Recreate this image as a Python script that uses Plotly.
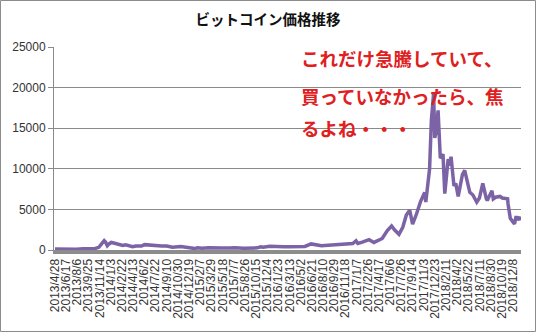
import datetime as dt
import plotly.graph_objects as go

# ---- data (approximate BTC price) ----
dates = [
    "2013-04-28", "2013-05-15", "2013-06-15", "2013-07-05", "2013-08-01", "2013-09-01",
    "2013-10-01", "2013-10-25", "2013-11-10", "2013-11-18", "2013-11-30", "2013-12-04",
    "2013-12-10", "2013-12-18", "2013-12-26", "2014-01-05", "2014-01-20", "2014-02-10",
    "2014-02-25", "2014-03-10", "2014-04-10", "2014-04-25", "2014-05-20", "2014-06-03",
    "2014-06-25", "2014-07-15", "2014-08-18", "2014-09-10", "2014-10-05", "2014-11-12",
    "2014-12-15", "2015-01-14", "2015-01-25", "2015-02-15", "2015-03-15", "2015-04-15",
    "2015-05-15", "2015-06-20", "2015-07-10", "2015-08-20", "2015-09-20", "2015-10-20",
    "2015-11-04", "2015-11-15", "2015-12-15", "2016-01-15", "2016-02-15", "2016-03-15",
    "2016-04-15", "2016-05-20", "2016-06-17", "2016-07-01", "2016-08-02", "2016-09-01",
    "2016-10-01", "2016-11-01", "2016-12-01", "2016-12-20", "2017-01-04", "2017-01-12",
    "2017-02-01", "2017-03-03", "2017-03-25", "2017-04-15", "2017-05-01", "2017-05-24",
    "2017-06-12", "2017-06-26", "2017-07-15", "2017-08-01", "2017-08-17", "2017-09-01",
    "2017-09-14", "2017-10-01", "2017-10-20", "2017-11-07", "2017-11-12", "2017-11-29",
    "2017-12-07", "2017-12-17", "2017-12-22", "2017-12-28", "2018-01-06", "2018-01-16",
    "2018-01-28", "2018-02-05", "2018-02-20", "2018-02-28", "2018-03-05", "2018-03-18",
    "2018-03-26", "2018-04-06", "2018-04-25", "2018-05-05", "2018-05-28", "2018-06-10",
    "2018-06-28", "2018-07-10", "2018-07-25", "2018-08-10", "2018-08-14", "2018-09-04",
    "2018-09-10", "2018-09-20", "2018-10-10", "2018-10-20", "2018-11-13", "2018-11-15",
    "2018-11-20", "2018-11-25", "2018-12-06", "2018-12-14", "2018-12-20", "2018-12-24",
    "2018-12-28", "2019-01-06", "2019-01-10",
]
prices = [
    135, 115, 100, 75, 105, 140,
    125, 190, 330, 600, 1130, 1150,
    980, 520, 750, 930, 830, 680,
    550, 630, 400, 500, 480, 660,
    590, 620, 480, 480, 330, 430,
    350, 180, 280, 230, 285, 220,
    240, 245, 280, 230, 230, 265,
    400, 330, 460, 380, 400, 415,
    430, 445, 750, 670, 520, 575,
    615, 730, 750, 800, 1130, 800,
    970, 1280, 930, 1180, 1420, 2400,
    2950, 2450, 1930, 2800, 4300, 4900,
    3200, 4400, 6000, 7100, 5900, 10000,
    16000, 19300, 13800, 14500, 17200, 11300,
    11800, 6950, 11200, 10400, 11500, 7900,
    8200, 6600, 9300, 9800, 7100, 6800,
    5900, 6400, 8200, 6300, 6100, 7300,
    6300, 6500, 6600, 6400, 6300, 5700,
    4500, 3900, 3500, 3200, 4000, 4000,
    3700, 4050, 3650,
]

title_text = "ビットコイン価格推移"
note_lines = ["これだけ急騰していて、", "買っていなかったら、焦", "るよね・・・"]
y_ticks = [0, 5000, 10000, 15000, 20000, 25000]

# category labels every 50 days
start = dt.date(2013, 4, 28)
tick_dates = [start + dt.timedelta(days=50 * i) for i in range(42)]
tick_vals = [d.isoformat() for d in tick_dates]
tick_text = [f"{d.year}/{d.month}/{d.day}" for d in tick_dates]

W, H = 536, 332
ML, MR, MT, MB = 54, 15, 47, 82
PW, PH = W - ML - MR, H - MT - MB

fig = go.Figure()
fig.add_trace(go.Scatter(
    x=dates, y=prices, mode="lines",
    line=dict(color="#7B63A6", width=3.5),
    showlegend=False, hoverinfo="skip",
))

fig.update_layout(
    width=W, height=H,
    margin=dict(l=ML, r=MR, t=MT, b=MB, pad=0),
    paper_bgcolor="white", plot_bgcolor="white",
    font=dict(family="Liberation Sans, Arial, sans-serif", size=12, color="#333333"),
    title=dict(
        text=title_text, x=0.5, xref="container", xanchor="center",
        y=1 - 20 / H, yref="container", yanchor="middle",
        font=dict(family="Noto Sans CJK JP", size=14.5, color="#111111", weight="bold"),
    ),
    xaxis=dict(
        type="date",
        range=["2013-04-23 12:00", "2019-01-12"],
        tickmode="array", tickvals=tick_vals, ticktext=tick_text,
        tickangle=-90, ticks="", showgrid=False,
        showline=True, linecolor="#8C8C8C", linewidth=4,
        tickfont=dict(size=12, color="#333333"),
        zeroline=False,
    ),
    yaxis=dict(
        range=[0, 25000], tickmode="array", tickvals=y_ticks,
        ticktext=[str(v) for v in y_ticks],
        showgrid=True, gridcolor="#8A8A8A", gridwidth=1,
        showline=True, linecolor="#8A8A8A", linewidth=1,
        ticks="outside", ticklen=5, tickcolor="#8A8A8A",
        zeroline=False, tickfont=dict(size=12, color="#333333"),
    ),
)

# notes
note_y_px = [58, 96, 128]
for txt, ypx in zip(note_lines, note_y_px):
    fig.add_annotation(
        text=txt, xref="paper", yref="paper",
        x=(299 - ML) / PW, y=(H - MB - ypx) / PH,
        xanchor="left", yanchor="middle", showarrow=False,
        font=dict(family="Noto Sans CJK JP", size=18.5, color="#E0201E", weight="bold"),
    )

# outer border
fig.add_shape(
    type="rect", xref="paper", yref="paper",
    x0=(-ML + 0.5) / PW, x1=(PW + MR - 0.5) / PW,
    y0=(-MB + 0.5) / PH, y1=(PH + MT - 0.5) / PH,
    line=dict(color="#8C8C8C", width=1), layer="below",
)

fig.write_html("out.html")
